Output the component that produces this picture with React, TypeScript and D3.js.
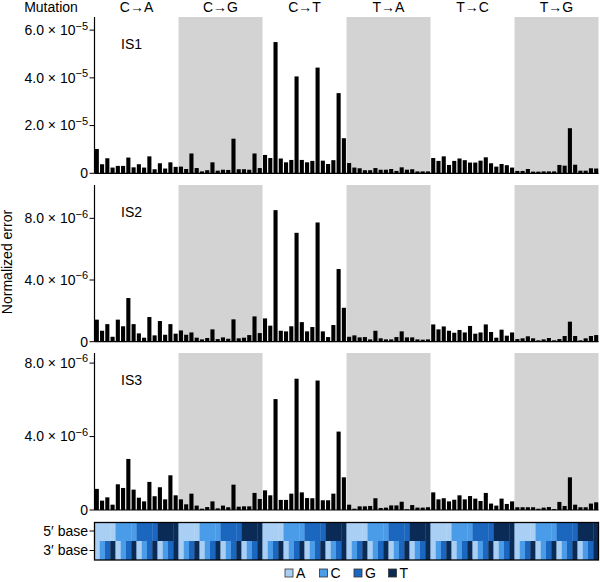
import * as d3 from 'd3';

const mutations = ['C→A', 'C→G', 'C→T', 'T→A', 'T→C', 'T→G'];
const bases = ['A', 'C', 'G', 'T'];
const baseColors = ['#a9cff4', '#4b9ce8', '#1b67c0', '#0b2b57'];

// normalized error per trinucleotide context (96 bars)
const is1 = [
  10.2, 3.8, 6.3, 2.4, 3.1, 3.1, 6.6, 2.5, 3.8, 2.4, 7.1, 1.7, 4.2, 2.0, 4.6, 2.7,
  2.8, 1.8, 8.3, 2.2, 0.8, 1.3, 4.6, 1.1, 1.5, 1.4, 14.5, 1.7, 1.7, 1.5, 8.3, 2.2,
  7.7, 6.4, 55.0, 6.2, 4.6, 5.6, 40.6, 5.6, 4.6, 5.2, 44.3, 5.3, 3.9, 5.5, 33.6, 14.7,
  4.3, 2.4, 2.1, 1.3, 1.3, 2.2, 1.5, 1.5, 1.8, 1.0, 2.5, 1.5, 1.7, 0.8, 0.8, 0.8,
  6.4, 5.2, 7.1, 3.5, 5.2, 6.2, 5.5, 4.5, 4.5, 5.3, 6.7, 4.2, 2.8, 3.9, 3.4, 2.4,
  1.0, 1.0, 1.8, 0.7, 0.7, 0.8, 0.8, 0.8, 3.5, 3.2, 18.9, 3.6, 1.1, 1.1, 2.1, 2.0,
].map(v => v * 1e-6);

const is2 = [
  1.43, 0.71, 1.14, 0.32, 1.43, 1.0, 2.83, 1.14, 0.54, 0.26, 1.6, 0.41, 1.34, 0.45, 1.14, 0.52,
  0.73, 0.45, 0.6, 0.26, 0.15, 0.24, 0.8, 0.17, 0.28, 0.19, 1.45, 0.22, 0.26, 0.43, 1.64, 0.56,
  1.51, 1.04, 8.53, 0.71, 0.67, 1.0, 7.06, 1.27, 0.67, 0.95, 7.73, 0.67, 0.3, 1.08, 4.71, 2.2,
  0.32, 0.41, 0.28, 0.3, 0.15, 0.71, 0.22, 0.15, 0.15, 0.3, 0.67, 0.28, 0.28, 0.15, 0.13, 0.15,
  1.12, 0.8, 0.99, 0.71, 0.58, 0.76, 0.6, 1.02, 0.52, 0.6, 1.12, 0.63, 0.26, 0.78, 0.39, 0.6,
  0.17, 0.22, 0.35, 0.22, 0.09, 0.15, 0.24, 0.09, 0.17, 0.37, 1.3, 0.37, 0.09, 0.22, 0.37, 0.43,
].map(v => v * 1e-6);

const is3 = [
  1.15, 0.51, 0.69, 0.29, 1.4, 1.2, 2.78, 1.11, 0.67, 0.47, 1.53, 0.75, 1.24, 0.58, 1.89, 0.8,
  0.58, 0.31, 0.89, 0.24, 0.07, 0.16, 0.47, 0.09, 0.24, 0.15, 1.38, 0.18, 0.2, 0.2, 0.93, 0.6,
  1.07, 0.8, 6.04, 0.55, 0.55, 0.89, 7.15, 0.96, 0.65, 0.64, 7.05, 0.53, 0.53, 0.89, 4.27, 1.78,
  0.29, 0.07, 0.2, 0.2, 0.22, 0.64, 0.11, 0.13, 0.25, 0.25, 0.45, 0.04, 0.27, 0.13, 0.13, 0.15,
  0.96, 0.58, 0.64, 0.47, 0.56, 0.8, 0.58, 0.76, 0.62, 0.49, 0.93, 0.35, 0.24, 0.62, 0.33, 0.47,
  0.15, 0.15, 0.15, 0.15, 0.07, 0.13, 0.16, 0.05, 0.44, 0.22, 1.78, 0.29, 0.15, 0.15, 0.35, 0.42,
].map(v => v * 1e-6);

const panels = [
  { name: 'IS1', values: is1, max: 6.55e-5, ticks: [0, 2e-5, 4e-5, 6e-5], top: 17, bottom: 173.3 },
  { name: 'IS2', values: is2, max: 10.16e-6, ticks: [0, 4e-6, 8e-6], top: 185, bottom: 341.7 },
  { name: 'IS3', values: is3, max: 8.55e-6, ticks: [0, 4e-6, 8e-6], top: 353, bottom: 510 },
];

const left = 94.5;
const right = 598.5;
const font = '"Liberation Sans", Arial, sans-serif';
const fs = 14;

const contexts = d3.range(96);
const x = d3.scaleBand<number>().domain(contexts).range([left, right]).paddingInner(0.22).paddingOuter(0.05);
const groupX = d3.scaleBand<string>().domain(mutations).range([left, right]);

function TickLabel({ v, y }: { v: number; y: number }) {
  if (v === 0) {
    return <text x={88} y={y} dy="0.35em" textAnchor="end" fontSize={fs}>0</text>;
  }
  const exp = Math.floor(Math.log10(v));
  const mant = (v / Math.pow(10, exp)).toFixed(1);
  return (
    <text x={88} y={y} dy="0.35em" textAnchor="end" fontSize={fs}>
      {mant} × 10
      <tspan dy="-0.5em" fontSize={11}>{'−' + Math.abs(exp)}</tspan>
    </text>
  );
}

function Panel({ p }: { p: typeof panels[number] }) {
  const y = d3.scaleLinear().domain([0, p.max]).range([p.bottom, p.top]);
  return (
    <g>
      {mutations.map((m, i) =>
        i % 2 === 1 ? (
          <rect key={m} x={groupX(m)} y={p.top} width={groupX.bandwidth()} height={p.bottom - p.top} fill="#d3d3d3" />
        ) : null
      )}
      {p.values.map((v, i) => (
        <rect key={i} x={x(i)} y={y(v)} width={x.bandwidth()} height={p.bottom - y(v)} fill="#000" />
      ))}
      <line x1={left} x2={right} y1={p.bottom} y2={p.bottom} stroke="#000" strokeWidth={1.2} />
      <line x1={left} x2={left} y1={p.top} y2={p.bottom} stroke="#000" strokeWidth={1.2} />
      {p.ticks.map(t => (
        <g key={t}>
          <line x1={left - 5} x2={left} y1={y(t)} y2={y(t)} stroke="#000" strokeWidth={1} />
          <TickLabel v={t} y={y(t)} />
        </g>
      ))}
      <text x={121} y={p.top + 32} fontSize={fs}>{p.name}</text>
    </g>
  );
}

export default function App() {
  const stripTop = 522.5;
  const stripMid = 541;
  const stripBottom = 560;
  return (
    <svg width={600} height={582} style={{ position: 'absolute', left: 0, top: 0 }} fontFamily={font}>
      <rect width={600} height={582} fill="#fff" />
      <text x={51} y={12} textAnchor="middle" fontSize={fs}>Mutation</text>
      {mutations.map(m => (
        <text key={m} x={(groupX(m) ?? 0) + groupX.bandwidth() / 2} y={12} textAnchor="middle" fontSize={fs}>{m}</text>
      ))}
      <text transform="translate(12,262) rotate(-90)" textAnchor="middle" fontSize={fs}>Normalized error</text>
      {panels.map(p => <Panel key={p.name} p={p} />)}
      {contexts.map(i => {
        const x0 = left + (i * (right - left)) / 96;
        const w = (right - left) / 96 + 0.3;
        const five = Math.floor((i % 16) / 4);
        const three = i % 4;
        return (
          <g key={i}>
            <rect x={x0} y={stripTop} width={w} height={stripMid - stripTop} fill={baseColors[five]} />
            <rect x={x0} y={stripMid} width={w} height={stripBottom - stripMid} fill={baseColors[three]} />
          </g>
        );
      })}
      <rect x={left} y={stripTop} width={right - left} height={stripBottom - stripTop} fill="none" stroke="#000" strokeWidth={1.3} />
      {["5′ base", "3′ base"].map((t, k) => {
        const yy = k === 0 ? 531 : 550.5;
        return (
          <g key={t}>
            <line x1={left - 5} x2={left} y1={yy} y2={yy} stroke="#000" />
            <text x={88} y={yy} dy="0.35em" textAnchor="end" fontSize={fs}>{t}</text>
          </g>
        );
      })}
      {bases.map((b, i) => (
        <g key={b} transform={`translate(${285 + i * 34.5},569)`}>
          <rect x={0} y={0} width={8} height={8} fill={baseColors[i]} stroke="#333" strokeWidth={0.8} />
          <text x={11} y={4} dy="0.36em" fontSize={fs}>{b}</text>
        </g>
      ))}
    </svg>
  );
}
